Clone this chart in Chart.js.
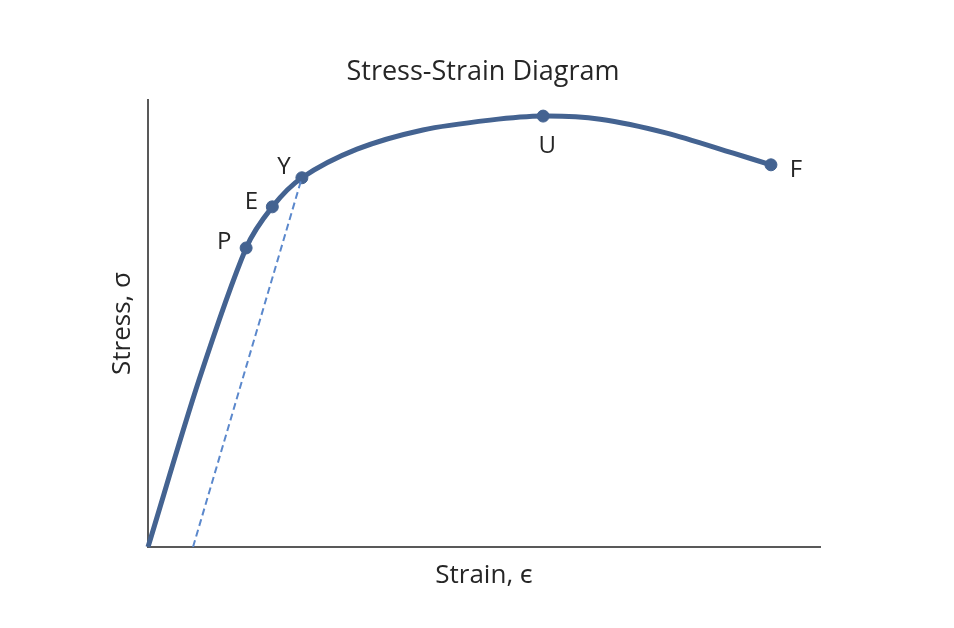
<!DOCTYPE html>
<html>
<head>
<meta charset="utf-8">
<script src="https://cdn.jsdelivr.net/npm/chart.js@4.4.1/dist/chart.umd.min.js"></script>
<style>
  html, body { margin: 0; padding: 0; background: #fff; }
  #wrap { width: 954px; height: 628px; }
</style>
</head>
<body>
<div id="wrap"><canvas id="graficoCurva" width="954" height="628"></canvas></div>
<script>
// puntos con nombre (strain %, stress %)
const pointNames = ['P', 'E', 'Y', 'U', 'F'];
const pointStrain = [14.6, 18.5, 22.9, 58.8, 92.7];
const pointStress = [66.9, 76.1, 82.6, 96.4, 85.5];

// curva completa
const curveStrain = [0, 7.6, 14.6, 18.5, 22.9, 31.1, 40.9, 50.9, 58.8, 67.3, 77.2, 87.1, 92.7];
const curveStress = [0, 37.4, 66.9, 76.1, 82.6, 89.0, 93.3, 95.5, 96.4, 95.7, 92.6, 88.1, 85.5];

// linea de descarga (offset)
const offsetStrain = [6.7, 22.9];
const offsetStress = [0, 82.6];

const fontFamily = '"Open Sans", "Noto Sans", sans-serif';
const lineColor = '#446391';
const textColor = '#262626';

document.addEventListener("DOMContentLoaded", () => {
    const toXY = (xs, ys) => xs.map((x, i) => ({ x: x, y: ys[i] }));

    // desplazamiento de cada etiqueta respecto a su punto
    const labelShift = { P: [-22, -6], E: [-21, -5], Y: [-18, -11], U: [4, 30], F: [25, 5] };

    const pointLabels = {
        id: 'pointLabels',
        afterDatasetsDraw(chart) {
            const ctx = chart.ctx;
            const meta = chart.getDatasetMeta(2);
            ctx.save();
            ctx.font = '24px ' + fontFamily;
            ctx.fillStyle = textColor;
            ctx.textAlign = 'center';
            ctx.textBaseline = 'middle';
            meta.data.forEach((pt, i) => {
                const name = pointNames[i];
                const s = labelShift[name];
                ctx.fillText(name, pt.x + s[0], pt.y + s[1]);
            });
            ctx.restore();
        }
    };

    new Chart(document.querySelector("#graficoCurva"), {
        type: 'scatter',
        data: {
            datasets: [
                {
                    data: toXY(offsetStrain, offsetStress),
                    showLine: true,
                    borderColor: '#5b88cc',
                    borderWidth: 2,
                    borderDash: [7, 4],
                    pointRadius: 0
                },
                {
                    data: toXY(curveStrain, curveStress),
                    showLine: true,
                    borderColor: lineColor,
                    borderWidth: 5,
                    tension: 0.3,
                    pointRadius: 0,
                    clip: false
                },
                {
                    data: toXY(pointStrain, pointStress),
                    showLine: false,
                    backgroundColor: lineColor,
                    borderColor: lineColor,
                    pointRadius: 6
                }
            ]
        },
        options: {
            responsive: false,
            animation: false,
            devicePixelRatio: 1,
            layout: { padding: { left: 146, right: 134, top: 0, bottom: 31 } },
            plugins: {
                legend: { display: false },
                tooltip: { enabled: false },
                title: {
                    display: true,
                    text: 'Stress-Strain Diagram',
                    color: textColor,
                    font: { family: fontFamily, size: 27, weight: 'normal' },
                    padding: { top: 55.8, bottom: 11.8 }
                }
            },
            scales: {
                x: {
                    type: 'linear',
                    min: 0,
                    max: 100,
                    grid: { display: false },
                    ticks: { display: false },
                    border: { display: true, color: '#595959', width: 2 },
                    title: {
                        display: true,
                        text: 'Strain, ϵ',
                        color: textColor,
                        font: { family: fontFamily, size: 26 },
                        padding: { top: 0, bottom: 5.4 }
                    },
                    afterFit(scale) { scale.height = 50; }
                },
                y: {
                    type: 'linear',
                    min: 0,
                    max: 100,
                    grid: { display: false },
                    ticks: { display: false },
                    border: { display: true, color: '#595959', width: 2 },
                    title: {
                        display: true,
                        text: 'Stress, σ',
                        color: textColor,
                        font: { family: fontFamily, size: 26 },
                        padding: { top: -38.6, bottom: 0 }
                    },
                    afterFit(scale) { scale.width = 2; }
                }
            }
        },
        plugins: [pointLabels]
    });
});
</script>
</body>
</html>
